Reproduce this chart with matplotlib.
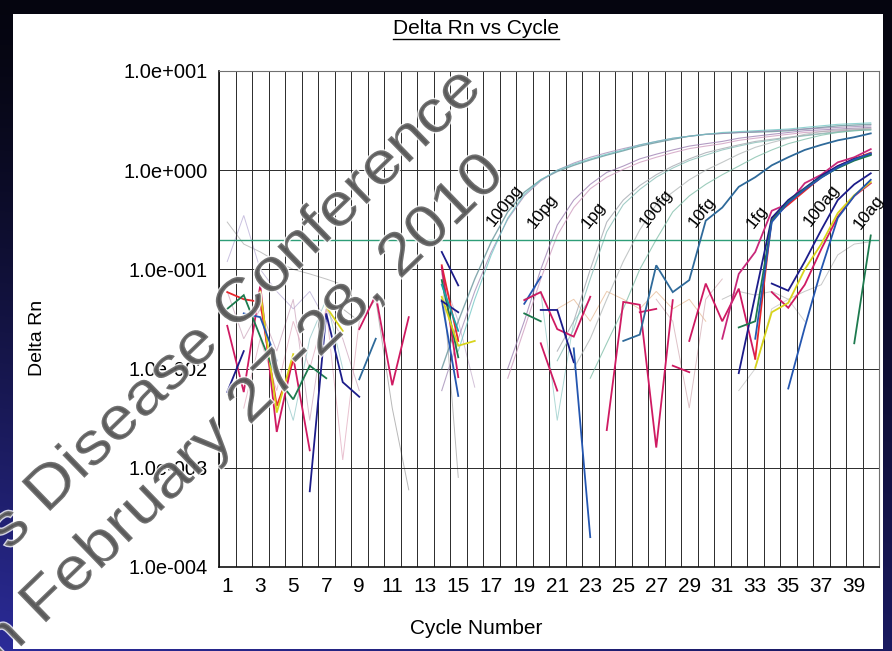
import numpy as np
import matplotlib
matplotlib.use('Agg')
import matplotlib.pyplot as plt
import matplotlib.patheffects as pe
from matplotlib.patches import Rectangle, PathPatch
from matplotlib.lines import Line2D
from matplotlib.ticker import NullLocator
from matplotlib.textpath import TextPath
from matplotlib.font_manager import FontProperties
from matplotlib.transforms import Affine2D

plt.rcParams['font.family'] = ['Liberation Sans', 'DejaVu Sans']

# ---------------- data ----------------
threshold = 0.2
x_tick_cycles = list(range(1, 40, 2))
y_tick_values = [1e1, 1e0, 1e-1, 1e-2, 1e-3, 1e-4]
y_tick_labels = ['1.0e+001', '1.0e+000', '1.0e-001', '1.0e-002', '1.0e-003', '1.0e-004']

dilution_labels = ['100pg', '10pg', '1pg', '100fg', '10fg', '1fg', '100ag', '10ag']
dilution_label_cycle = [17.8, 20.1, 23.2, 27.0, 29.8, 33.1, 37.0, 39.9]
dilution_label_rn = [0.44, 0.39, 0.35, 0.41, 0.38, 0.34, 0.44, 0.38]

watermark_lines = ['s Disease Conference', 'n February 27-28, 2010']

# each trace: (first cycle, delta Rn values for consecutive cycles)
# faint replicate curves that reach the plateau
pg100_a = (14, [0.01, 0.03, 0.08, 0.19, 0.38, 0.6, 0.8, 0.97, 1.12, 1.27, 1.42, 1.57, 1.75, 1.9,
                2.05, 2.2, 2.3, 2.35, 2.4, 2.42, 2.45, 2.5, 2.6, 2.7, 2.8, 2.85, 2.9])
pg100_b = (14, [0.006, 0.02, 0.06, 0.15, 0.32, 0.55, 0.78, 1.0, 1.18, 1.35, 1.5, 1.65, 1.8, 1.95,
                2.1, 2.2, 2.3, 2.35, 2.4, 2.45, 2.5, 2.55, 2.6, 2.65, 2.7, 2.75, 2.8])
pg100_c = (15, [0.015, 0.05, 0.14, 0.33, 0.57, 0.8, 1.0, 1.15, 1.3, 1.45, 1.6, 1.8, 1.95, 2.1,
                2.2, 2.3, 2.4, 2.45, 2.5, 2.55, 2.6, 2.7, 2.8, 2.9, 2.95, 3.0])
pg10_a = (18, [0.01, 0.03, 0.1, 0.28, 0.5, 0.72, 0.95, 1.1, 1.3, 1.45, 1.6, 1.75, 1.85, 1.95,
               2.1, 2.2, 2.3, 2.4, 2.5, 2.55, 2.6, 2.65, 2.7])
pg10_b = (18, [0.008, 0.025, 0.08, 0.22, 0.42, 0.65, 0.85, 1.02, 1.2, 1.35, 1.5, 1.65, 1.75, 1.85,
               2.0, 2.1, 2.2, 2.3, 2.4, 2.45, 2.5, 2.55, 2.6])
pg1_a = (21, [0.015, 0.03, 0.1, 0.3, 0.5, 0.7, 0.9, 1.1, 1.3, 1.5, 1.65, 1.8, 1.95, 2.05, 2.15,
              2.25, 2.35, 2.45, 2.55, 2.6])
pg1_b = (21, [0.012, 0.025, 0.08, 0.24, 0.45, 0.64, 0.85, 1.05, 1.25, 1.42, 1.6, 1.75, 1.9, 2.0,
              2.12, 2.22, 2.32, 2.42, 2.5, 2.55])
fg100_a = (22, [0.01, 0.02, 0.05, 0.12, 0.25, 0.45, 0.6, 0.8, 1.0, 1.2, 1.45, 1.7, 1.9, 2.1, 2.3,
                2.45, 2.55, 2.6, 2.65])
fg100_b = (23, [0.008, 0.018, 0.04, 0.1, 0.2, 0.38, 0.55, 0.72, 0.9, 1.1, 1.35, 1.6, 1.85, 2.05,
                2.25, 2.4, 2.5, 2.55])

# faint background noise
noise_1 = (1, [0.3, 0.18, 0.15, 0.12, 0.1, 0.09, 0.08, 0.07])
noise_2 = (1, [0.12, 0.35, 0.1, 0.06, 0.04, 0.06, 0.03])
noise_3 = (1, [0.06, 0.02, 0.04, 0.015, 0.05, 0.003, 0.04, 0.02, 0.006])
noise_4 = (2, [0.004, 0.02, 0.006, 0.03, 0.01, 0.04, 0.0012, 0.03])
noise_5 = (8, [0.04, 0.03, 0.05, 0.004, 0.0006])
noise_6 = (4, [0.01, 0.003, 0.02, 0.05, 0.01])
noise_7 = (14, [0.1, 0.0008])
noise_8 = (14, [0.09, 0.03, 0.0065])
noise_9 = (19, [0.05, 0.06, 0.003, 0.03, 0.05])
noise_10 = (21, [0.04, 0.05, 0.03, 0.06, 0.05, 0.04, 0.06, 0.04, 0.05, 0.03])
noise_11 = (27, [0.05, 0.03, 0.004, 0.05, 0.08])
noise_12 = (31, [0.05, 0.06, 0.055, 0.06, 0.05, 0.06, 0.07, 0.14, 0.18, 0.19])
noise_13 = (32, [0.006, 0.01, 0.04, 0.05, 0.03])

# bold wells: early noise
crimson_a = (1, [0.027, 0.0058, 0.069, 0.0023, 0.013, 0.0015])
red_a = (1, [0.059, 0.05, 0.047, 0.0042, 0.012])
yellow_a = (3, [0.06, 0.0036, 0.014])
yellow_b = (7, [0.042, 0.024])
green_a = (1, [0.04, 0.055, 0.021, 0.008, 0.0049, 0.0107, 0.008])
navy_a = (1, [0.0058, 0.015])
blue_a = (2, [0.036, 0.033, 0.012])
navy_b = (6, [0.00058, 0.036, 0.0073, 0.0052])
blue_b = (9, [0.0078, 0.02])
crimson_b = (9, [0.025, 0.055, 0.0068, 0.033])
# cycle 14-15 cluster
navy_c = (14, [0.15, 0.069])
red_c = (14, [0.11, 0.019])
crimson_c = (14, [0.105, 0.0082])
blue_c = (14, [0.049, 0.0053])
green_c = (14, [0.078, 0.013])
yellow_c = (14, [0.053, 0.017, 0.019])
navy_d = (14, [0.048, 0.037])
teal_c = (14, [0.07, 0.024])
# middle cycles
blue_d = (19, [0.045, 0.084])
crimson_d = (19, [0.049, 0.059, 0.025, 0.021, 0.053])
green_d = (19, [0.036, 0.030])
crimson_e = (20, [0.018, 0.006])
navy_e = (20, [0.039, 0.039, 0.0116])
blue_e = (22, [0.016, 0.0002])
crimson_f = (24, [0.0024, 0.047, 0.044, 0.0016, 0.049])
crimson_g = (26, [0.037, 0.04])
crimson_h = (28, [0.0107, 0.0092])
crimson_i = (29, [0.019, 0.072, 0.030, 0.064, 0.0126])
# rising wells
blue_10fg = (25, [0.019, 0.022, 0.11, 0.059, 0.078, 0.31, 0.42, 0.68, 0.85, 1.12, 1.35, 1.6,
                  1.8, 2.0, 2.15, 2.35])
magenta_1fg = (31, [0.020, 0.09, 0.15, 0.39, 0.46, 0.74, 0.9, 1.2, 1.35, 1.63])
red_1fg = (33, [0.0126, 0.33, 0.45, 0.62, 0.85, 1.1, 1.3, 1.5])
navy_1fg = (32, [0.009, 0.055, 0.33, 0.5, 0.66, 0.88, 1.1, 1.3, 1.45])
green_1fg = (32, [0.026, 0.030, 0.31, 0.48, 0.65, 0.85, 1.05, 1.25, 1.42])
blue_1fg = (33, [0.02, 0.3, 0.47, 0.64, 0.84, 1.07, 1.28, 1.48])
navy_100ag = (34, [0.072, 0.061, 0.12, 0.25, 0.5, 0.72, 0.93])
crimson_100ag = (34, [0.059, 0.041, 0.07, 0.16, 0.34, 0.55, 0.74])
yellow_100ag = (33, [0.0102, 0.037, 0.046, 0.1, 0.18, 0.37, 0.56, 0.76])
blue_100ag = (35, [0.0063, 0.026, 0.1, 0.33, 0.55, 0.8])
green_10ag = (39, [0.018, 0.22])

# ---------------- figure ----------------
W, H = 892, 651
fig = plt.figure(figsize=(W / 100, H / 100), dpi=100)

# dark slide background with the blue glow at the lower left
bg = fig.add_axes([0, 0, 1, 1], zorder=-2)
rows = np.linspace(0, 1, H)[:, None]
cols = np.linspace(0, 1, W)[None, :]
f = rows ** 1.4
dark = np.array([0.02, 0.02, 0.06])
blue_l = np.array([0.17, 0.17, 0.60])
blue_r = np.array([0.10, 0.10, 0.38])
img = (dark * (1 - f)[..., None] + (blue_l * (1 - cols)[..., None] + blue_r * cols[..., None]) * f[..., None])
bg.imshow(np.clip(img, 0, 1), extent=[0, W, H, 0], aspect='auto')
bg.add_patch(Rectangle((13, 14), 870, 635, facecolor='white', edgecolor='none'))
bg.set_xlim(0, W)
bg.set_ylim(H, 0)
bg.axis('off')

ax = fig.add_axes([219 / W, 1 - 567 / H, 660 / W, 496 / H])
ax.set_facecolor('white')
ax.set_yscale('log')
ax.set_xlim(0.5, 40.5)
ax.set_ylim(1e-4, 1e1)

ax.set_xticks(x_tick_cycles)
ax.set_xticklabels([str(c) for c in x_tick_cycles], fontsize=15)
ax.set_xticks(np.arange(0.5, 41, 1), minor=True)
ax.set_yticks(y_tick_values)
ax.set_yticklabels(y_tick_labels, fontsize=14.5)
ax.yaxis.set_minor_locator(NullLocator())
ax.tick_params(which='both', length=0)
ax.tick_params(axis='x', pad=7)
ax.tick_params(axis='y', pad=8)
ax.grid(which='minor', axis='x', color='#2a2a2a', lw=0.7)
ax.grid(which='major', axis='y', color='#2a2a2a', lw=0.7)
ax.grid(which='major', axis='x', visible=False)
for side in ['top', 'right']:
    ax.spines[side].set_color('#707070')
    ax.spines[side].set_linewidth(0.8)
for side in ['left', 'bottom']:
    ax.spines[side].set_color('#111111')
    ax.spines[side].set_linewidth(1.2)


def draw(trace, color, lw, alpha=1.0, z=2):
    start, vals = trace
    cyc = np.arange(start, start + len(vals))
    ax.plot(cyc, vals, color=color, lw=lw, alpha=alpha, zorder=z, solid_joinstyle='miter')


faint = [(noise_1, '#a8a8a8'), (noise_2, '#b4a8d4'), (noise_3, '#c9a0b8'), (noise_4, '#e0a8bc'),
         (noise_5, '#9a9a9a'), (noise_6, '#8cc4c4'), (noise_7, '#a0a0a0'), (noise_8, '#c0a8c8'),
         (noise_9, '#8cc8c4'), (noise_10, '#e4b48c'), (noise_11, '#d0a8b0'), (noise_12, '#b0b0b0'),
         (noise_13, '#c0c0c0')]
for tr, col in faint:
    draw(tr, col, 0.7, 0.7, 1)

upper = [(pg100_a, '#5f8f96', 1.0), (pg100_b, '#a08ab4', 0.8), (pg100_c, '#6cc4c2', 0.8),
         (pg10_a, '#9a7cb0', 0.8), (pg10_b, '#cc98bc', 0.8), (pg1_a, '#a0a4ac', 0.8),
         (pg1_b, '#84bcb4', 0.8), (fg100_a, '#b0b6b6', 0.8), (fg100_b, '#7cbca6', 0.8)]
for tr, col, lw in upper:
    draw(tr, col, lw, 0.75, 2)

ax.axhline(threshold, color='#2e9e78', lw=1.0, zorder=2.5)

crimson, red, navy, blue, steel = '#cf1a62', '#e8262c', '#1c1c8a', '#2456b0', '#2f6a9a'
green, yellow, teal = '#1d7a4e', '#d8d41c', '#1aa0a8'
bold = [(crimson_a, crimson), (red_a, red), (yellow_a, yellow), (yellow_b, yellow),
        (green_a, green), (navy_a, navy), (blue_a, blue), (navy_b, navy), (blue_b, steel),
        (crimson_b, crimson), (navy_c, navy), (red_c, red), (crimson_c, crimson),
        (blue_c, blue), (green_c, green), (yellow_c, yellow), (navy_d, navy), (teal_c, teal),
        (blue_d, blue), (crimson_d, crimson), (green_d, green), (crimson_e, crimson),
        (navy_e, navy), (blue_e, blue), (crimson_f, crimson), (crimson_g, crimson),
        (crimson_h, crimson), (crimson_i, crimson), (blue_10fg, steel), (magenta_1fg, '#c8287a'),
        (red_1fg, red), (navy_1fg, navy), (green_1fg, green), (blue_1fg, blue),
        (navy_100ag, navy), (crimson_100ag, crimson), (yellow_100ag, yellow),
        (blue_100ag, blue), (green_10ag, green)]
for tr, col in bold:
    draw(tr, col, 1.3, 1.0, 3)

for lab, cx, cy in zip(dilution_labels, dilution_label_cycle, dilution_label_rn):
    ax.text(cx, cy, lab, rotation=52, ha='center', va='center', fontsize=12.5, zorder=4)

# titles and axis labels
title = fig.text(476 / W, 1 - 28 / H, 'Delta Rn vs Cycle', ha='center', va='center', fontsize=15)
fig.text(476 / W, 1 - 628 / H, 'Cycle Number', ha='center', va='center', fontsize=15)
fig.text(37 / W, 1 - 338 / H, 'Delta Rn', ha='center', va='center', rotation=90, fontsize=14)

fig.canvas.draw()
bb = title.get_window_extent(fig.canvas.get_renderer()).transformed(fig.transFigure.inverted())
fig.add_artist(Line2D([bb.x0, bb.x1], [bb.y0 - 1.5 / H, bb.y0 - 1.5 / H],
                      transform=fig.transFigure, color='black', lw=1.0))


# conference watermark: text outlines laid along a baseline (pixel coords, top-left origin)
def watermark(text, start, end, size=43):
    tp = TextPath((0, 0), text, size=size, prop=FontProperties(family='Liberation Sans'))
    ext = tp.get_extents()
    x0, y0 = start[0], H - start[1]
    x1, y1 = end[0], H - end[1]
    px = 100 / 72
    length = np.hypot(x1 - x0, y1 - y0)
    ang = np.degrees(np.arctan2(y1 - y0, x1 - x0))
    stretch = length / (ext.width * px)
    tr = Affine2D().translate(-ext.x0, 0).scale(stretch * px, px).rotate_deg(ang).translate(x0, y0)
    patch = PathPatch(tp, transform=tr, facecolor='#555555', edgecolor='none', alpha=0.8,
                      zorder=10)
    patch.set_path_effects([pe.Stroke(linewidth=2, foreground='white'), pe.Normal()])
    fig.add_artist(patch)


watermark(watermark_lines[0], (10, 550), (482, 92))
watermark(watermark_lines[1], (5, 662), (505, 178))

fig.savefig('out.png', dpi=100)
